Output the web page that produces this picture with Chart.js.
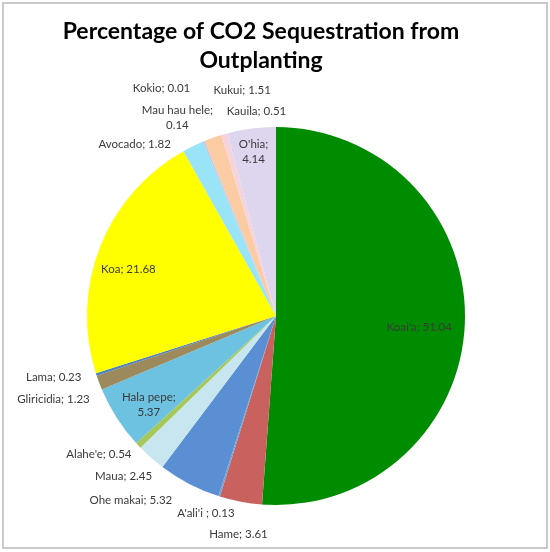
<!DOCTYPE html>
<html>
<head>
<meta charset="utf-8">
<script src="https://cdn.jsdelivr.net/npm/chart.js@4.4.1/dist/chart.umd.min.js"></script>
<style>
  html, body { margin: 0; padding: 0; background: #fff; }
  #wrap { position: relative; width: 550px; height: 552px; }
  #sequestrationChart { position: absolute; left: 0; top: 0; }
  #frame {
    position: absolute; left: 2px; top: 2px; width: 542px; height: 543px;
    border: 2px solid #c9c9c9; pointer-events: none;
  }
</style>
</head>
<body>
<div id="wrap">
  <canvas id="sequestrationChart" width="550" height="552"></canvas>
  <div id="frame"></div>
</div>
<script>
// Species, clockwise from 12 o'clock
const species = ["Koai'a", 'Hame', "A'ali'i ", 'Ohe makai', 'Maua', "Alahe'e", 'Hala pepe',
  'Gliricidia', 'Lama', 'Koa', 'Avocado', 'Kokio', 'Mau hau hele', 'Kukui', 'Kauila', "O'hia"];
const percentages = [51.04, 3.61, 0.13, 5.32, 2.45, 0.54, 5.37, 1.23, 0.23, 21.68, 1.82, 0.01, 0.14, 1.51, 0.51, 4.14];
const valueLabels = ['51.04', '3.61', '0.13', '5.32', '2.45', '0.54', '5.37', '1.23', '0.23', '21.68', '1.82', '0.01', '0.14', '1.51', '0.51', '4.14'];

const sliceColors = ['#008c00', '#c9625e', '#6fa0d8', '#5b8fd4', '#c8e6ef', '#a6c85a', '#6cc2e0',
  '#9c8a5c', '#4f81bd', '#ffff00', '#99e4f6', '#e8a070', '#b9c6ef', '#fbcba4', '#f6d2da', '#ddd6ee'];

// label placement: k = fraction of radius, shift = degrees from mid angle,
// align = text alignment, split = break after ';'
const labelLayout = [
  { k: 0.76, shift: 2.5, align: 'center' },
  { k: 1.17, shift: -1, align: 'center' },
  { k: 1.11, shift: 2, align: 'center' },
  { k: 1.12, shift: 2, align: 'right' },
  { k: 1.07, shift: -3.6, align: 'right' },
  { k: 1.06, shift: -0.6, align: 'right' },
  { k: 0.82, shift: -2.3, align: 'center', split: true },
  { k: 1.08, shift: -3.5, align: 'right' },
  { k: 1.08, shift: 0.4, align: 'right' },
  { k: 0.82, shift: -3.8, align: 'center' },
  { k: 1.066, shift: -5.4, align: 'right' },
  { k: 1.35, shift: -3.9, align: 'center' },
  { k: 1.17, shift: -4, align: 'center', split: true },
  { k: 1.21, shift: 11, align: 'center' },
  { k: 1.086, shift: 10.4, align: 'center' },
  { k: 0.878, shift: -0.3, align: 'center', split: true }
];

const FONT = 'Lato, "Open Sans", sans-serif';

const titlePlugin = {
  id: 'titleLines',
  afterDraw(chart) {
    const c = chart.ctx;
    c.save();
    c.fillStyle = '#000';
    c.font = 'bold 23px ' + FONT;
    c.textAlign = 'center';
    c.textBaseline = 'middle';
    c.fillText('Percentage of CO2 Sequestration from', 261, 32);
    c.fillText('Outplanting', 261, 61);
    c.restore();
  }
};

const sliceLabels = {
  id: 'sliceLabels',
  afterDatasetsDraw(chart) {
    const c = chart.ctx;
    const arcs = chart.getDatasetMeta(0).data;
    c.save();
    c.font = '11.5px ' + FONT;
    c.fillStyle = '#3a3a3a';
    c.textBaseline = 'middle';
    arcs.forEach(function(arc, i) {
      const lay = labelLayout[i];
      const a = (arc.startAngle + arc.endAngle) / 2 + lay.shift * Math.PI / 180;
      const r = arc.outerRadius * lay.k;
      const x = arc.x + Math.cos(a) * r;
      const y = arc.y + Math.sin(a) * r;
      c.textAlign = lay.align;
      if (lay.split) {
        c.fillText(species[i] + ';', x, y - 7.5);
        c.fillText(valueLabels[i], x, y + 7.5);
      } else {
        c.fillText(species[i] + '; ' + valueLabels[i], x, y);
      }
    });
    c.restore();
  }
};

document.addEventListener('DOMContentLoaded', function() {
  const ctx = document.getElementById('sequestrationChart').getContext('2d');
  new Chart(ctx, {
    type: 'pie',
    data: {
      labels: species,
      datasets: [{
        data: percentages,
        backgroundColor: sliceColors,
        borderWidth: 0,
        hoverOffset: 0
      }]
    },
    options: {
      responsive: false,
      animation: false,
      events: [],
      layout: { padding: { top: 127, bottom: 47, left: 87, right: 85 } },
      plugins: {
        legend: { display: false },
        tooltip: { enabled: false },
        title: { display: false }
      }
    },
    plugins: [titlePlugin, sliceLabels]
  });
});
</script>
</body>
</html>
